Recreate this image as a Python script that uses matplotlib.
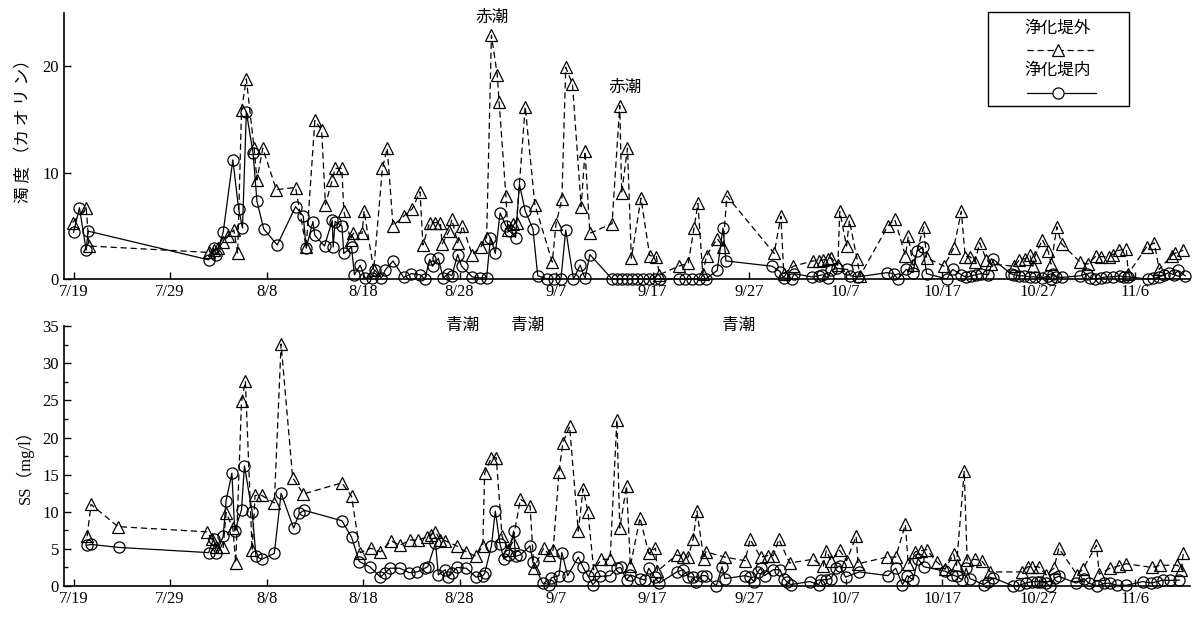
import matplotlib
matplotlib.use("Agg")
import matplotlib.pyplot as plt
from matplotlib.lines import Line2D
from matplotlib.patches import Rectangle
from matplotlib.ticker import MultipleLocator

JP = ["Noto Sans CJK JP", "DejaVu Sans"]
SERIF = ["Liberation Serif", "Noto Sans CJK JP"]

# x = days after 7/19
tick_days = [0, 10, 20, 30, 40, 50, 60, 70, 80, 90, 100, 110]
tick_labels = ["7/19", "7/29", "8/8", "8/18", "8/28", "9/7", "9/17",
               "9/27", "10/7", "10/17", "10/27", "11/6"]

# ---- turbidity (kaolin), outside the purification dike ----
turb_out_day = [-0.1, 1.3, 1.6, 14.0, 14.5, 15.0, 15.5, 16.0, 16.6, 17.0, 17.4, 17.9,
                18.7, 19.0, 19.6, 21.0, 23.0, 24.1, 25.0, 25.7, 26.1, 26.8, 27.1, 27.8,
                28.0, 28.7, 29.0, 29.9, 30.1, 31.1, 32.0, 32.5, 33.1, 34.2, 35.1, 35.9,
                36.2, 36.9, 37.5, 38.0, 38.2, 38.9, 39.2, 39.8, 40.3, 41.3, 42.2, 42.8,
                43.3, 43.9, 44.1, 44.8, 45.0, 45.5, 45.9, 46.8, 47.8, 49.6, 50.0, 50.6,
                51.0, 51.7, 52.6, 53.0, 53.5, 55.8, 56.6, 56.8, 57.4, 57.8, 58.8, 59.7,
                60.4, 60.7, 62.7, 63.7, 64.3, 64.7, 65.2, 65.6, 66.7, 67.3, 67.7, 72.6,
                73.3, 73.6, 74.6, 76.6, 77.2, 77.7, 78.2, 78.5, 79.2, 79.4, 80.1, 80.4,
                81.2, 81.5, 84.4, 85.1, 86.2, 86.5, 87.0, 88.1, 88.4, 90.2, 91.2, 92.0,
                92.4, 92.9, 93.4, 93.9, 94.6, 95.1, 97.5, 98.0, 98.6, 99.1, 99.4, 99.6,
                100.4, 101.0, 101.3, 101.9, 102.4, 104.3, 105.1, 106.0, 106.5, 107.3,
                107.7, 108.3, 109.1, 109.3, 111.2, 112.0, 112.5, 113.8, 114.1, 115.0]
turb_out_val = [5.3, 6.7, 3.1, 2.5, 2.7, 2.9, 3.5, 4.0, 4.6, 2.4, 15.9, 18.8,
                12.3, 9.3, 12.3, 8.4, 8.6, 3.0, 14.9, 14.0, 7.0, 9.3, 10.4, 10.4,
                6.4, 3.7, 4.3, 4.3, 6.4, 0.85, 10.4, 12.3, 5.0, 5.9, 6.6, 8.2,
                3.2, 5.3, 5.3, 5.3, 3.3, 4.5, 5.6, 3.4, 5.0, 2.3, 3.0, 3.9,
                22.9, 19.2, 16.6, 7.8, 4.6, 5.2, 5.3, 16.2, 7.0, 1.6, 5.2, 7.5,
                19.9, 18.3, 6.8, 12.0, 4.3, 5.2, 16.3, 8.1, 12.3, 1.95, 7.6, 2.2,
                2.1, 0.4, 1.2, 1.5, 4.8, 7.1, 0.5, 2.2, 3.8, 3.0, 7.8, 2.4,
                5.9, 0.5, 1.2, 1.7, 1.7, 1.8, 1.9, 2.0, 1.3, 6.35, 3.1, 5.5,
                1.85, 0.3, 5.0, 5.6, 2.2, 4.0, 1.3, 4.9, 2.0, 1.2, 2.9, 6.35,
                2.1, 2.1, 1.6, 3.4, 1.8, 1.4, 1.2, 1.8, 1.9, 2.3, 1.2, 2.1,
                3.7, 2.6, 1.4, 4.9, 3.3, 1.6, 1.4, 2.2, 2.1, 2.1,
                2.3, 2.7, 2.8, 0.5, 3.0, 3.4, 0.9, 2.2, 2.4, 2.7]

# ---- turbidity (kaolin), inside the purification dike ----
turb_in_day = [0.0, 0.6, 1.3, 1.5, 14.0, 14.5, 14.8, 15.5, 16.5, 17.1, 17.5, 17.9,
               18.6, 19.0, 19.7, 21.1, 23.0, 23.8, 24.1, 24.8, 25.0, 26.0, 26.8, 26.9,
               27.1, 27.8, 28.0, 28.8, 29.1, 29.7, 30.2, 30.9, 31.2, 31.9, 32.3, 33.1,
               34.2, 35.0, 35.9, 36.4, 36.9, 37.2, 37.8, 38.3, 38.8, 39.2, 39.8, 40.2,
               41.3, 42.1, 42.8, 43.2, 43.7, 44.2, 44.8, 45.2, 45.8, 46.2, 46.8, 47.6,
               48.1, 49.1, 49.8, 50.5, 51.0, 51.8, 52.5, 53.0, 53.5, 55.8, 56.3, 56.8,
               57.3, 57.9, 58.4, 59.0, 59.6, 60.2, 60.8, 62.7, 63.4, 64.1, 64.8, 65.5,
               66.7, 67.3, 67.6, 72.4, 73.2, 73.6, 74.4, 74.7, 76.5, 77.2, 77.6, 78.2,
               78.5, 79.1, 80.2, 80.5, 81.3, 84.3, 85.0, 85.4, 86.3, 87.0, 87.4, 88.0,
               88.4, 90.5, 91.1, 92.0, 92.5, 93.0, 93.5, 94.0, 94.8, 95.3, 97.1, 97.5,
               98.0, 98.5, 99.1, 99.6, 100.4, 101.0, 101.3, 101.5, 101.8, 102.4, 104.3,
               105.0, 105.3, 105.9, 106.5, 107.0, 107.7, 108.4, 108.9, 109.3, 111.3,
               111.9, 112.5, 113.0, 113.5, 114.0, 114.5, 115.2]
turb_in_val = [4.4, 6.7, 2.7, 4.5, 1.8, 2.9, 2.3, 4.4, 11.2, 6.6, 4.8, 15.7,
               11.8, 7.3, 4.7, 3.2, 6.8, 5.9, 2.9, 5.4, 4.1, 3.1, 5.5, 3.0,
               5.4, 5.0, 2.4, 3.0, 0.4, 1.3, 0.1, 0.1, 0.85, 0.1, 0.85, 1.7,
               0.15, 0.5, 0.4, 0.0, 1.85, 1.2, 1.95, 0.1, 0.5, 0.3, 2.3, 1.2,
               0.2, 0.1, 0.1, 3.9, 2.4, 6.2, 5.0, 4.5, 3.9, 8.9, 6.4, 4.7,
               0.3, 0.0, 0.0, 0.0, 4.6, 0.0, 1.3, 0.05, 2.3, 0.0, 0.0, 0.0,
               0.0, 0.0, 0.0, 0.0, 0.0, 0.0, 0.0, 0.0, 0.0, 0.0, 0.0, 0.0,
               0.8, 4.8, 1.7, 1.2, 0.7, 0.1, 0.0, 0.5, 0.2, 0.3, 0.4, 0.1,
               0.8, 1.0, 0.9, 0.3, 0.2, 0.6, 0.5, 0.0, 0.9, 0.6, 2.6, 3.0,
               0.5, 0.0, 0.9, 0.4, 0.15, 0.3, 0.4, 0.5, 0.4, 1.85, 0.5, 0.4,
               0.3, 0.3, 0.2, 0.2, 0.1, 0.3, 0.0, 0.5, 0.2, 0.15, 0.3,
               0.5, 0.1, 0.0, 0.1, 0.2, 0.2, 0.3, 0.2, 0.2, 0.0,
               0.05, 0.2, 0.4, 0.6, 0.4, 0.8, 0.3]

# ---- SS (mg/l), outside ----
ss_out_day = [1.4, 1.8, 4.6, 13.8, 14.3, 14.8, 15.5, 15.8, 16.5, 16.8, 17.4, 17.8,
              18.5, 18.8, 19.5, 20.8, 21.5, 22.7, 23.8, 27.8, 28.8, 29.7, 30.8, 31.8,
              32.9, 33.8, 34.9, 35.7, 36.6, 37.0, 37.5, 38.0, 38.5, 39.7, 40.7, 41.7,
              42.4, 42.6, 43.3, 43.8, 44.4, 45.0, 45.5, 46.3, 47.3, 47.7, 48.7, 49.3,
              49.7, 50.3, 50.7, 51.4, 52.3, 52.8, 53.3, 53.9, 54.7, 55.6, 56.3, 56.6,
              57.3, 57.7, 58.7, 59.6, 60.3, 60.5, 62.5, 63.2, 63.7, 64.2, 64.6, 65.3,
              65.5, 67.5, 69.6, 70.1, 71.2, 72.0, 72.5, 73.1, 74.2, 76.6, 77.7, 78.0,
              78.5, 79.4, 80.1, 81.1, 81.3, 84.3, 85.2, 86.2, 86.5, 87.2, 87.8, 88.4,
              89.5, 90.3, 91.2, 91.5, 92.3, 92.6, 93.4, 94.1, 95.0, 98.3, 98.9, 99.3,
              100.0, 100.8, 101.6, 102.1, 104.0, 104.6, 106.0, 106.3, 107.4, 108.3,
              109.1, 111.8, 112.6, 114.4, 114.8, 115.0]
ss_out_val = [6.7, 11.0, 8.0, 7.3, 6.4, 5.3, 5.2, 9.9, 7.8, 3.1, 24.9, 27.6,
              4.8, 12.2, 12.2, 11.2, 32.6, 14.6, 12.4, 13.9, 12.1, 4.5, 5.1, 4.6,
              6.1, 5.5, 6.2, 6.2, 6.6, 6.9, 7.3, 6.2, 6.1, 5.4, 4.6, 4.0,
              5.4, 15.2, 17.3, 17.3, 6.7, 4.9, 5.9, 11.7, 10.8, 2.4, 5.1, 4.2,
              4.9, 15.4, 19.3, 21.5, 7.4, 13.1, 10.0, 2.2, 3.6, 3.6, 22.4, 7.8,
              13.5, 2.7, 9.2, 4.4, 5.1, 2.0, 4.2, 3.9, 3.9, 6.3, 10.1, 3.7,
              4.6, 3.9, 3.4, 6.3, 3.9, 4.1, 4.1, 6.3, 3.1, 3.6, 2.7, 4.75,
              3.4, 4.8, 3.4, 6.7, 3.0, 3.9, 3.9, 8.3, 2.9, 4.6, 4.75, 4.9,
              3.2, 2.25, 4.3, 2.8, 15.5, 3.5, 3.6, 3.4, 1.9, 1.9, 2.6, 2.6,
              2.6, 1.5, 2.4, 5.1, 1.5, 2.3, 5.5, 1.6, 2.4, 2.7,
              3.0, 2.5, 2.8, 2.8, 2.2, 4.4]

# ---- SS (mg/l), inside ----
ss_in_day = [1.4, 1.8, 4.7, 14.0, 14.5, 14.8, 15.5, 15.8, 16.4, 16.7, 17.4, 17.7,
             18.5, 18.9, 19.5, 20.8, 21.5, 22.8, 23.4, 23.9, 27.8, 28.8, 29.6, 30.7,
             31.8, 32.3, 32.8, 33.8, 34.8, 35.6, 36.4, 36.7, 37.5, 37.8, 38.5, 38.8,
             39.2, 39.7, 40.7, 41.7, 42.4, 42.6, 43.3, 43.7, 44.2, 44.6, 45.1, 45.6,
             45.8, 46.3, 47.3, 47.6, 48.6, 49.3, 49.5, 50.3, 50.6, 51.2, 52.3, 52.8,
             53.3, 53.8, 54.6, 55.6, 56.3, 56.7, 57.3, 57.7, 58.7, 59.2, 59.6, 60.2,
             60.7, 62.5, 63.2, 63.7, 64.2, 64.5, 65.1, 65.5, 66.6, 67.2, 67.5, 69.6,
             70.1, 70.5, 70.9, 71.2, 71.6, 72.5, 73.2, 73.6, 73.9, 74.3, 76.3, 77.2,
             77.5, 78.0, 78.5, 79.0, 79.4, 80.0, 81.4, 84.4, 85.2, 85.9, 86.4, 87.0,
             87.5, 88.1, 90.3, 91.0, 91.5, 92.1, 92.5, 92.9, 94.3, 94.8, 95.3, 97.4,
             98.0, 98.7, 99.3, 99.8, 100.2, 100.8, 101.2, 101.7, 102.1, 103.9, 104.7,
             105.2, 106.1, 106.8, 107.4, 108.1, 109.1, 110.8, 111.7, 112.3, 112.9,
             113.6, 114.6]
ss_in_val = [5.5, 5.6, 5.2, 4.5, 6.4, 4.5, 6.7, 11.5, 15.2, 7.4, 10.3, 16.2,
             10.0, 4.0, 3.6, 4.4, 12.5, 7.8, 9.8, 10.2, 8.8, 6.6, 3.3, 2.6,
             1.2, 1.8, 2.4, 2.4, 1.8, 1.9, 2.4, 2.6, 5.8, 1.5, 2.2, 1.2,
             1.7, 2.5, 2.4, 1.2, 1.4, 1.7, 5.4, 10.1, 5.6, 3.6, 4.2, 7.4,
             4.0, 4.2, 5.4, 3.2, 0.4, 0.2, 1.1, 1.4, 4.5, 1.4, 3.9, 2.5,
             1.4, 0.2, 1.3, 1.4, 2.4, 2.5, 0.8, 1.5, 1.0, 0.8, 2.4, 1.2,
             0.4, 1.9, 2.2, 1.25, 1.2, 0.6, 1.4, 1.4, 0.0, 2.6, 1.0, 1.4,
             1.2, 0.6, 1.9, 2.4, 1.4, 2.2, 2.2, 1.0, 0.6, 0.2, 0.6, 0.2,
             0.85, 0.85, 1.0, 2.4, 2.7, 1.2, 1.9, 1.4, 2.4, 0.2, 1.4, 0.8,
             3.7, 2.6, 2.0, 1.55, 1.3, 0.85, 2.4, 1.0, 0.2, 0.6, 1.1, 0.0,
             0.1, 0.4, 0.6, 0.6, 0.6, 0.4, 0.0, 1.1, 1.3, 0.4, 1.0,
             0.4, 0.0, 0.35, 0.4, 0.1, 0.1, 0.6, 0.4, 0.6, 0.8,
             0.75, 0.8]

# event labels
red_tide = [(43.4, 24.6), (57.2, 18.0)]   # (day, turbidity level of label)
blue_tide = [40.3, 47.0, 68.9]            # days

LBL_OUT = "浄化堤外"
LBL_IN = "浄化堤内"
DASH = (0, (5, 3))


def draw(ax, d_out, v_out, d_in, v_in):
    ax.plot(d_out, v_out, ls=DASH, color="k", lw=0.9, marker="^", ms=8,
            mfc="none", mec="k", mew=0.9, clip_on=False)
    ax.plot(d_in, v_in, ls="-", color="k", lw=0.9, marker="o", ms=8,
            mfc="none", mec="k", mew=0.9, clip_on=False)
    ax.set_xlim(-1, 115.7)
    ax.set_xticks(tick_days)
    ax.set_xticklabels(tick_labels, family=SERIF, fontsize=12)
    for s in ("top", "right"):
        ax.spines[s].set_visible(False)
    for s in ("left", "bottom"):
        ax.spines[s].set_linewidth(1.2)
    ax.tick_params(direction="in", length=5, width=1, labelsize=12)
    ax.tick_params(which="minor", direction="in", length=3, width=1)


fig = plt.figure(figsize=(11.96, 6.20), dpi=100)
ax1 = fig.add_axes([0.0535, 0.55, 0.9415, 0.429])
ax2 = fig.add_axes([0.0535, 0.0548, 0.9415, 0.419])
ax1.set_zorder(2)          # keep the 青潮 labels above the lower panel
ax1.patch.set_visible(False)

draw(ax1, turb_out_day, turb_out_val, turb_in_day, turb_in_val)
ax1.set_ylim(0, 25)
ax1.set_yticks([0, 10, 20])
ax1.set_yticklabels(["0", "10", "20"], family=SERIF, fontsize=12)

draw(ax2, ss_out_day, ss_out_val, ss_in_day, ss_in_val)
ax2.set_ylim(0, 35)
ax2.set_yticks(range(0, 36, 5))
ax2.set_yticklabels([str(v) for v in range(0, 36, 5)], family=SERIF, fontsize=12)
ax2.yaxis.set_minor_locator(MultipleLocator(2.5))

# annotations
for d, v in red_tide:
    ax1.text(d, v, "赤潮", family=JP, fontsize=12, ha="center", va="center",
             clip_on=False)
for d in blue_tide:
    ax1.text(d, -0.175, "青潮", family=JP, fontsize=12, ha="center",
             va="center", transform=ax1.get_xaxis_transform())

# axis titles
fig.text(0.02, 0.795, "濁 度 （カ オ リ ン）", family=JP, fontsize=12, rotation=90,
         ha="center", va="center")
fig.text(0.021, 0.253, "SS（mg/l）", family=SERIF, fontsize=12, rotation=90,
         ha="center", va="center")

# legend box (labels above their line samples)
fig.add_artist(Rectangle((0.826, 0.829), 0.1179, 0.1516, transform=fig.transFigure,
                         fill=False, ec="k", lw=1.0))
fig.text(0.8846, 0.9548, LBL_OUT, family=JP, fontsize=12, ha="center", va="center")
fig.text(0.8846, 0.887, LBL_IN, family=JP, fontsize=12, ha="center", va="center")
fig.add_artist(Line2D([0.8587, 0.9164], [0.9194, 0.9194], transform=fig.transFigure,
                      ls=DASH, color="k", lw=0.9))
fig.add_artist(Line2D([0.8846], [0.9194], transform=fig.transFigure, ls="none",
                      marker="^", ms=8, mfc="white", mec="k", mew=0.9))
fig.add_artist(Line2D([0.8587, 0.9164], [0.85, 0.85], transform=fig.transFigure,
                      ls="-", color="k", lw=0.9))
fig.add_artist(Line2D([0.8846], [0.85], transform=fig.transFigure, ls="none",
                      marker="o", ms=8, mfc="white", mec="k", mew=0.9))

fig.savefig("out.png", dpi=100)
